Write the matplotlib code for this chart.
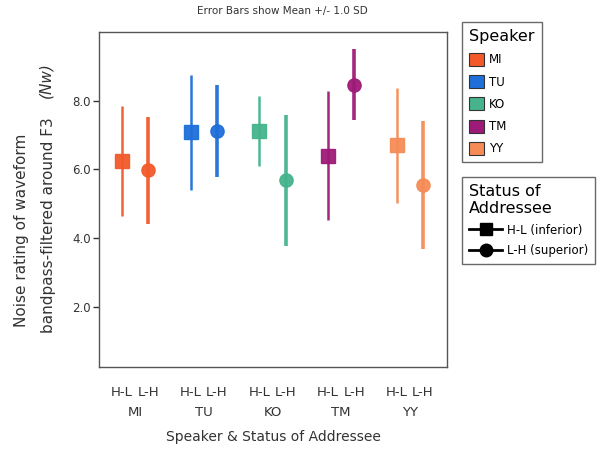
import numpy as np
import matplotlib.pyplot as plt
from matplotlib.lines import Line2D
from matplotlib.patches import Patch

speakers = ["MI", "TU", "KO", "TM", "YY"]
statuses = ["H-L", "L-H"]
colors = ["#F25A2A", "#1E6FD9", "#45B48C", "#9E1A78", "#F58C56"]

# mean and SD per speaker, columns = H-L, L-H
means = [[6.25, 5.97], [7.08, 7.12], [7.12, 5.68], [6.40, 8.47], [6.70, 5.55]]
sds = [[1.60, 1.56], [1.68, 1.34], [1.02, 1.90], [1.88, 1.04], [1.68, 1.87]]

fig = plt.figure(figsize=(6.1, 4.57), dpi=100)
ax = fig.add_axes([99 / 610, 1 - 367 / 457, 348 / 610, 335 / 457])

group_gap = 2.45
offset = 0.47
markers = ["s", "o"]
widths = [1.8, 2.6]
xpos, xlabels = [], []
for i, sp in enumerate(speakers):
    centre = i * group_gap + offset
    for j, st in enumerate(statuses):
        x = centre + (2 * j - 1) * offset
        ax.errorbar(x, means[i][j], yerr=sds[i][j], fmt=markers[j], color=colors[i],
                    ecolor=colors[i], elinewidth=widths[j], capsize=0,
                    markersize=10 if j == 0 else 9.5, alpha=0.95)
        xpos.append(x)
        xlabels.append(st)

ax.set_xlim(-0.82, 11.6)
ax.set_ylim(0.25, 10.0)
ax.set_yticks([2, 4, 6, 8])
ax.set_yticklabels(["2.0", "4.0", "6.0", "8.0"], fontsize=8.5, color="#333333")
ax.tick_params(axis="y", length=4, width=1, color="#333333", pad=2)
ax.set_xticks(xpos)
ax.set_xticklabels(xlabels, fontsize=9.5, color="#333333")
ax.tick_params(axis="x", length=0, pad=14)
for s in ax.spines.values():
    s.set_color("#555555")
    s.set_linewidth(1.0)

# speaker names under each pair
for i, sp in enumerate(speakers):
    ax.text(i * group_gap + offset, -0.135, sp, transform=ax.get_xaxis_transform(),
            ha="center", va="center", fontsize=9.5, color="#333333")

fig.text(273 / 610, 1 - 437 / 457, "Speaker & Status of Addressee", ha="center",
         va="center", fontsize=10, color="#333333")
fig.text(282 / 610, 1 - 11 / 457, "Error Bars show Mean +/- 1.0 SD", ha="center",
         va="center", fontsize=7.5, color="#333333")

fig.text(22 / 610, 1 - 230 / 457, "Noise rating of waveform", rotation=90,
         ha="center", va="center", fontsize=11, color="#333333")
fig.text(48 / 610, 1 - 225 / 457, "bandpass-filtered around F3", rotation=90,
         ha="center", va="center", fontsize=11, color="#333333")
fig.text(46 / 610, 1 - 80 / 457, "(Nw)", rotation=90, ha="center", va="center",
         fontsize=11, style="italic", color="#333333")

# legends
sp_handles = [Patch(facecolor=c, edgecolor="#333333", linewidth=0.8) for c in colors]
leg1 = fig.legend(sp_handles, speakers, title="Speaker", loc="upper left",
                  bbox_to_anchor=(462 / 610, 1 - 22 / 457), borderaxespad=0,
                  fontsize=8.5, title_fontsize=11.5, frameon=True, fancybox=False,
                  edgecolor="#444444", handlelength=1.3, handleheight=1.3,
                  handletextpad=0.4, labelspacing=0.75, borderpad=0.6)
leg1._legend_box.align = "left"
leg1.get_frame().set_linewidth(1.0)

st_handles = [Line2D([0], [0], color="black", marker="s", markersize=9, lw=2),
              Line2D([0], [0], color="black", marker="o", markersize=9, lw=2)]
leg2 = fig.legend(st_handles, ["H-L (inferior)", "L-H (superior)"],
                  title="Status of\nAddressee", loc="upper left",
                  bbox_to_anchor=(462 / 610, 1 - 177 / 457), borderaxespad=0,
                  fontsize=8.5, title_fontsize=11.5, frameon=True, fancybox=False,
                  edgecolor="#444444", handlelength=2.8, handletextpad=0.4,
                  labelspacing=0.6, borderpad=0.6)
leg2._legend_box.align = "left"
leg2.get_frame().set_linewidth(1.0)

fig.savefig("out.png", dpi=100)
